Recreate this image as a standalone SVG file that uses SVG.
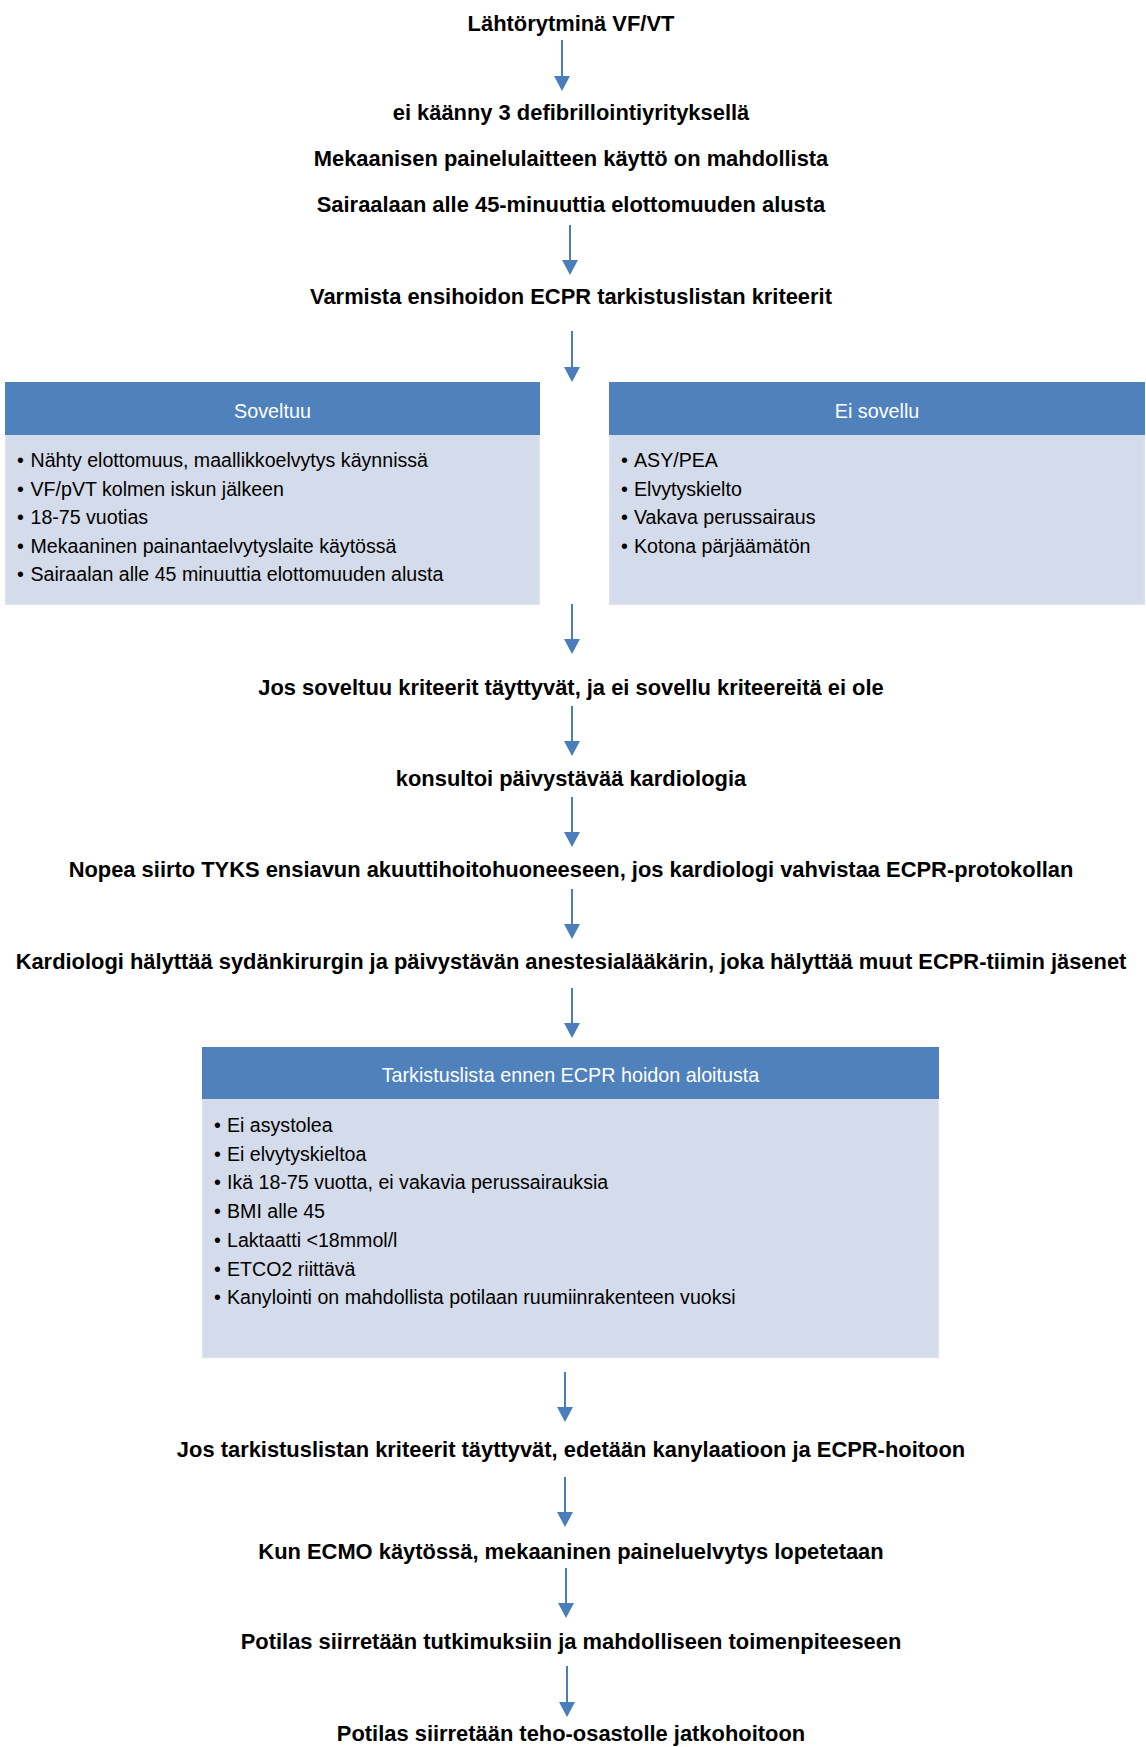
<svg xmlns="http://www.w3.org/2000/svg" width="1146" height="1747" viewBox="0 0 1146 1747">
<defs>
<style>
.t{font-family:"Liberation Sans",Arial,sans-serif;font-size:21.9px;font-weight:bold;fill:#000;text-anchor:middle}
.h{font-family:"Liberation Sans",Arial,sans-serif;font-size:19.75px;fill:#fff;text-anchor:middle}
.b{font-family:"Liberation Sans",Arial,sans-serif;font-size:19.6px;fill:#000}
.hd{fill:#4F81BD}
.bd{fill:#D4DBEA;stroke:#DDE2EE;stroke-width:1.5}
.c line{stroke:#4A7EBB;stroke-width:2;marker-end:url(#ah)}
</style>
<marker id="ah" markerWidth="16" markerHeight="16" refX="11" refY="8" orient="auto" markerUnits="userSpaceOnUse">
<path d="M0,0 L15,8 L0,16 z" fill="#4A7EBB"/>
</marker>
</defs>
<rect width="1146" height="1747" fill="#fff"/>

<g id="n1"><text class="t" x="571" y="31">Lähtörytminä VF/VT</text></g>
<g id="n2">
<text class="t" x="571" y="120">ei käänny 3 defibrillointiyrityksellä</text>
<text class="t" x="571" y="166">Mekaanisen painelulaitteen käyttö on mahdollista</text>
<text class="t" x="571" y="212">Sairaalaan alle 45-minuuttia elottomuuden alusta</text>
</g>
<g id="n3"><text class="t" x="571" y="304">Varmista ensihoidon ECPR tarkistuslistan kriteerit</text></g>

<g id="n4">
<rect class="bd" x="5.75" y="434" width="533.5" height="170.25"/>
<rect class="hd" x="5" y="382" width="535" height="53"/>
<text class="h" x="272.5" y="418">Soveltuu</text>
<text class="b" x="17" y="467">•</text><text class="b" x="30.5" y="467">Nähty elottomuus, maallikkoelvytys käynnissä</text>
<text class="b" x="17" y="495.5">•</text><text class="b" x="30.5" y="495.5">VF/pVT kolmen iskun jälkeen</text>
<text class="b" x="17" y="524">•</text><text class="b" x="30.5" y="524">18-75 vuotias</text>
<text class="b" x="17" y="552.5">•</text><text class="b" x="30.5" y="552.5">Mekaaninen painantaelvytyslaite käytössä</text>
<text class="b" x="17" y="581">•</text><text class="b" x="30.5" y="581">Sairaalan alle 45 minuuttia elottomuuden alusta</text>
</g>

<g id="n5">
<rect class="bd" x="609.75" y="434" width="534.5" height="170.25"/>
<rect class="hd" x="609" y="382" width="536" height="53"/>
<text class="h" x="877" y="418">Ei sovellu</text>
<text class="b" x="621" y="467">•</text><text class="b" x="634" y="467">ASY/PEA</text>
<text class="b" x="621" y="495.5">•</text><text class="b" x="634" y="495.5">Elvytyskielto</text>
<text class="b" x="621" y="524">•</text><text class="b" x="634" y="524">Vakava perussairaus</text>
<text class="b" x="621" y="552.5">•</text><text class="b" x="634" y="552.5">Kotona pärjäämätön</text>
</g>

<g id="n6"><text class="t" x="571" y="695">Jos soveltuu kriteerit täyttyvät, ja ei sovellu kriteereitä ei ole</text></g>
<g id="n7"><text class="t" x="571" y="786">konsultoi päivystävää kardiologia</text></g>
<g id="n8"><text class="t" x="571" y="877">Nopea siirto TYKS ensiavun akuuttihoitohuoneeseen, jos kardiologi vahvistaa ECPR-protokollan</text></g>
<g id="n9"><text class="t" x="571" y="969">Kardiologi hälyttää sydänkirurgin ja päivystävän anestesialääkärin, joka hälyttää muut ECPR-tiimin jäsenet</text></g>

<g id="n10">
<rect class="bd" x="202.75" y="1098" width="735.5" height="259.5"/>
<rect class="hd" x="202" y="1047" width="737" height="52"/>
<text class="h" x="570.5" y="1082">Tarkistuslista ennen ECPR hoidon aloitusta</text>
<text class="b" x="214" y="1132">•</text><text class="b" x="227" y="1132">Ei asystolea</text>
<text class="b" x="214" y="1160.7">•</text><text class="b" x="227" y="1160.7">Ei elvytyskieltoa</text>
<text class="b" x="214" y="1189.4">•</text><text class="b" x="227" y="1189.4">Ikä 18-75 vuotta, ei vakavia perussairauksia</text>
<text class="b" x="214" y="1218.1">•</text><text class="b" x="227" y="1218.1">BMI alle 45</text>
<text class="b" x="214" y="1246.8">•</text><text class="b" x="227" y="1246.8">Laktaatti &lt;18mmol/l</text>
<text class="b" x="214" y="1275.5">•</text><text class="b" x="227" y="1275.5">ETCO2 riittävä</text>
<text class="b" x="214" y="1304.2">•</text><text class="b" x="227" y="1304.2">Kanylointi on mahdollista potilaan ruumiinrakenteen vuoksi</text>
</g>

<g id="n11"><text class="t" x="571" y="1456.5">Jos tarkistuslistan kriteerit täyttyvät, edetään kanylaatioon ja ECPR-hoitoon</text></g>
<g id="n12"><text class="t" x="571" y="1559">Kun ECMO käytössä, mekaaninen paineluelvytys lopetetaan</text></g>
<g id="n13"><text class="t" x="571" y="1649">Potilas siirretään tutkimuksiin ja mahdolliseen toimenpiteeseen</text></g>
<g id="n14"><text class="t" x="571" y="1740.5">Potilas siirretään teho-osastolle jatkohoitoon</text></g>

<g id="connectors" class="c">
<line x1="562" y1="40" x2="562" y2="87"/>
<line x1="570" y1="225" x2="570" y2="271"/>
<line x1="572" y1="331" x2="572" y2="378"/>
<line x1="572" y1="604" x2="572" y2="650"/>
<line x1="572" y1="706" x2="572" y2="752"/>
<line x1="572" y1="797" x2="572" y2="843"/>
<line x1="572" y1="889" x2="572" y2="935"/>
<line x1="572" y1="988" x2="572" y2="1034"/>
<line x1="565" y1="1372" x2="565" y2="1418"/>
<line x1="565" y1="1477" x2="565" y2="1523"/>
<line x1="566" y1="1568" x2="566" y2="1614"/>
<line x1="567" y1="1666" x2="567" y2="1713"/>
</g>
</svg>
